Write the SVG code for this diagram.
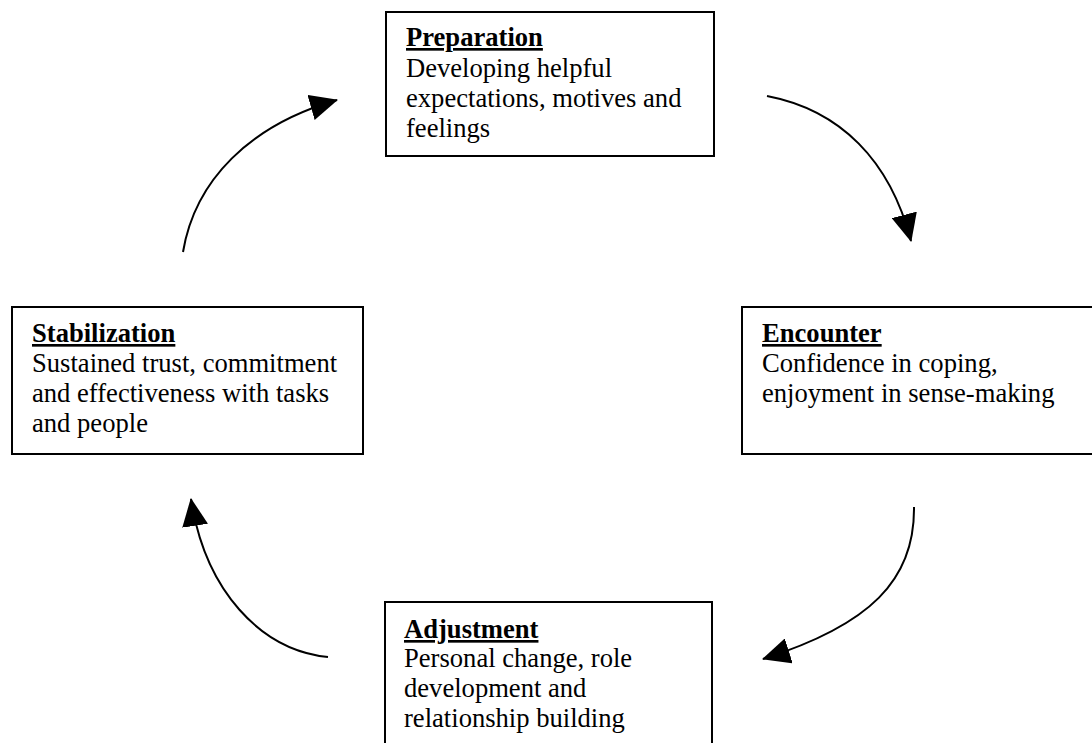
<svg xmlns="http://www.w3.org/2000/svg" width="1092" height="743" viewBox="0 0 1092 743">
<style>
.box{fill:#fff;stroke:#000;stroke-width:2}
.t{font-family:"Liberation Serif","Times New Roman",serif;font-size:26.6px;fill:#000}
.h{font-weight:bold;text-decoration:underline}
.c{fill:none;stroke:#000;stroke-width:2;marker-end:url(#ah)}
</style>
<defs>
<marker id="ah" viewBox="0 0 28 26" refX="27" refY="13" markerWidth="28" markerHeight="26" markerUnits="userSpaceOnUse" orient="auto">
<path d="M0,0 L28,13 L0,26 Z" fill="#000"/>
</marker>
</defs>
<rect width="1092" height="743" fill="#fff"/>
<g id="connectors">
<path class="c" d="M767,96 C840,110 890,160 911,241"/>
<path class="c" d="M914,507 C915,580 870,625 763,659"/>
<path class="c" d="M328,657 C260,650 205,590 191,499"/>
<path class="c" d="M183,252 C195,180 250,125 337,100"/>
</g>
<g id="preparation">
<rect class="box" x="386" y="12" width="328" height="144"/>
<text class="t h" x="406" y="46">Preparation</text>
<text class="t" x="406" y="77">Developing helpful</text>
<text class="t" x="406" y="107">expectations, motives and</text>
<text class="t" x="406" y="137">feelings</text>
</g>
<g id="encounter">
<rect class="box" x="742" y="307" width="370" height="147"/>
<text class="t h" x="762" y="342">Encounter</text>
<text class="t" x="762" y="372">Confidence in coping,</text>
<text class="t" x="762" y="402">enjoyment in sense-making</text>
</g>
<g id="stabilization">
<rect class="box" x="12" y="307" width="351" height="147"/>
<text class="t h" x="32" y="342">Stabilization</text>
<text class="t" x="32" y="372">Sustained trust, commitment</text>
<text class="t" x="32" y="402">and effectiveness with tasks</text>
<text class="t" x="32" y="432">and people</text>
</g>
<g id="adjustment">
<rect class="box" x="385" y="602" width="327" height="200"/>
<text class="t h" x="404" y="638">Adjustment</text>
<text class="t" x="404" y="667">Personal change, role</text>
<text class="t" x="404" y="697">development and</text>
<text class="t" x="404" y="727">relationship building</text>
</g>
</svg>
